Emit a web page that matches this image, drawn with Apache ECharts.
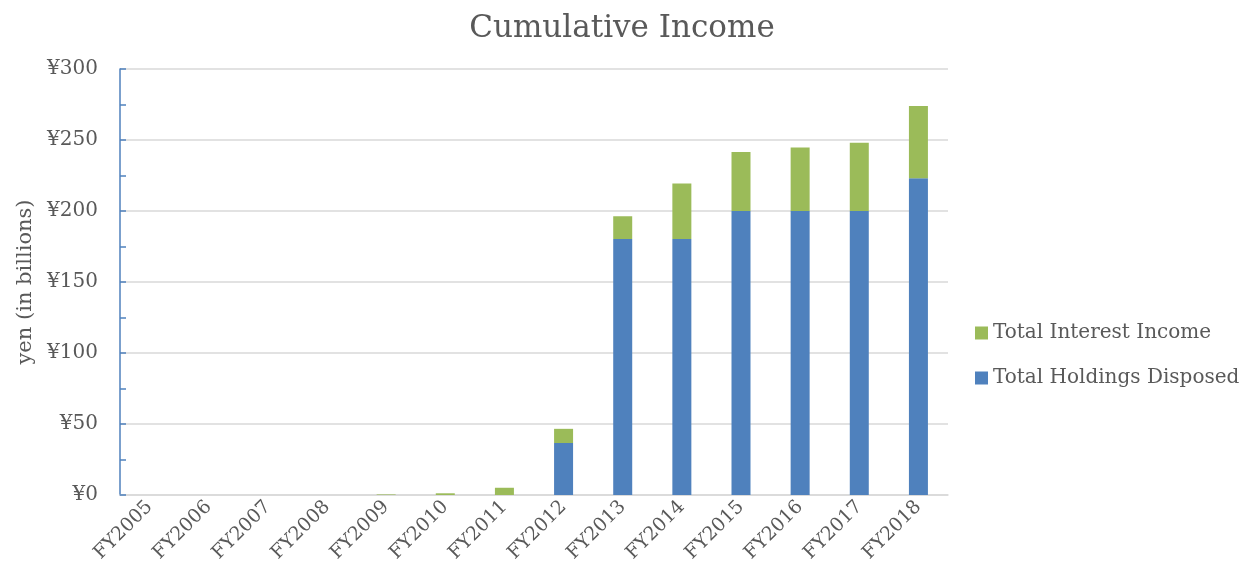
<!DOCTYPE html>
<html>
<head>
<meta charset="utf-8">
<script src="https://cdn.jsdelivr.net/npm/echarts@6/dist/echarts.min.js"></script>
<style>
  html, body { margin: 0; padding: 0; background: #fff; }
  #chart { width: 1244px; height: 581px; }
</style>
</head>
<body>
<div id="chart"></div>
<script>
// 数据
const years = ['FY2005', 'FY2006', 'FY2007', 'FY2008', 'FY2009', 'FY2010', 'FY2011',
    'FY2012', 'FY2013', 'FY2014', 'FY2015', 'FY2016', 'FY2017', 'FY2018'];
const holdingsDisposed = [0, 0, 0, 0, 0, 0, 0, 36.6, 180.3, 180.3, 200, 200, 200, 223];
const interestIncome = [0, 0, 0, 0, 0.4, 1.2, 5.1, 10, 16, 39, 41.5, 44.7, 48, 51];

const FONT = 'DejaVu Serif';
const TEXT = '#595959';

const chart = echarts.init(document.getElementById('chart'));
chart.setOption({
    backgroundColor: '#fff',
    animation: false,
    title: {
        text: 'Cumulative Income',
        left: 'center',
        top: 8,
        textStyle: { fontFamily: FONT, fontSize: 31, fontWeight: 'normal', color: TEXT }
    },
    legend: {
        orient: 'vertical',
        left: 975,
        top: 323,
        padding: 0,
        icon: 'rect',
        itemWidth: 13,
        itemHeight: 13,
        itemGap: 25,
        data: ['Total Interest Income', 'Total Holdings Disposed'],
        textStyle: { fontFamily: FONT, fontSize: 20, color: TEXT }
    },
    grid: { left: 120, right: 296, top: 69, bottom: 86 },
    xAxis: {
        type: 'category',
        data: years,
        axisLine: { lineStyle: { color: '#d9d9d9', width: 1.5 } },
        axisTick: { show: false },
        axisLabel: {
            rotate: 45,
            interval: 0,
            margin: 9,
            fontFamily: FONT,
            fontSize: 19,
            color: TEXT
        }
    },
    yAxis: {
        type: 'value',
        min: 0,
        max: 300,
        interval: 50,
        name: 'yen (in billions)',
        nameLocation: 'middle',
        nameGap: 84,
        nameTextStyle: { fontFamily: FONT, fontSize: 21, color: TEXT },
        axisLine: { show: true, lineStyle: { color: '#4f81bd', width: 1.5 } },
        axisTick: { show: true, inside: true, length: 6, lineStyle: { color: '#4f81bd', width: 1.5 } },
        minorTick: { show: true, splitNumber: 2, length: 6, lineStyle: { color: '#4f81bd', width: 1.5 } },
        splitLine: { lineStyle: { color: '#d9d9d9', width: 1.5 } },
        axisLabel: {
            formatter: '¥{value}',
            margin: 22,
            fontFamily: FONT,
            fontSize: 20,
            color: TEXT
        }
    },
    series: [
        {
            name: 'Total Holdings Disposed',
            type: 'bar',
            stack: 'total',
            barWidth: 19,
            data: holdingsDisposed,
            itemStyle: { color: '#4f81bd' }
        },
        {
            name: 'Total Interest Income',
            type: 'bar',
            stack: 'total',
            barWidth: 19,
            data: interestIncome,
            itemStyle: { color: '#9bbb59' }
        }
    ]
});
</script>
</body>
</html>
